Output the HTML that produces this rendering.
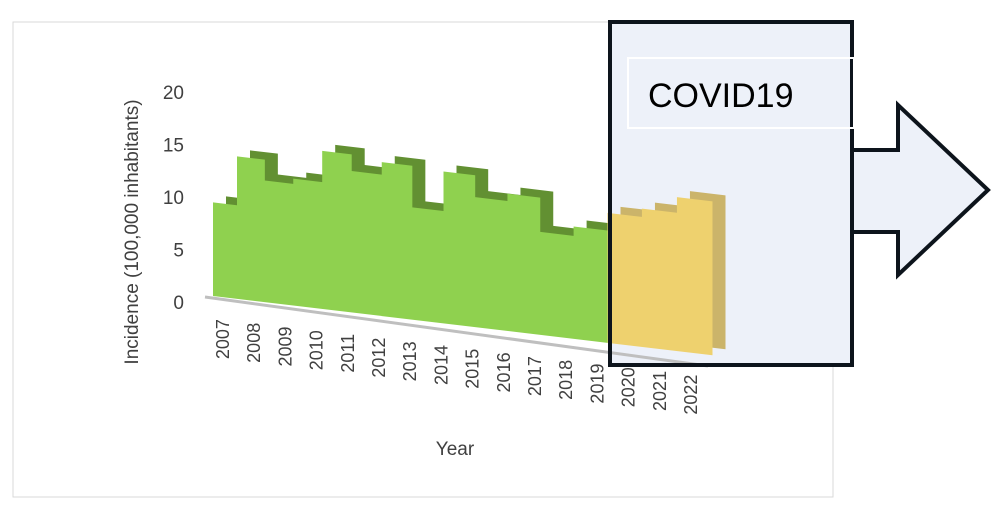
<!DOCTYPE html>
<html><head><meta charset="utf-8"><style>
body{margin:0;background:#fff;font-family:"Liberation Sans",sans-serif}
svg{display:block}
text{fill:#404040}
</style></head><body>
<svg id="c" width="1000" height="514">
<rect x="13" y="22" width="820" height="475" fill="#fff" stroke="#d9d9d9"/>
<rect x="610" y="22" width="242" height="343" fill="#edf1f9"/>
<g id="yt"></g>
<text x="138" y="232" font-size="19" text-anchor="middle" transform="rotate(-90 138 232)">Incidence (100,000 inhabitants)</text>
<text x="455" y="455" font-size="19" text-anchor="middle">Year</text>
<line x1="205" y1="297" x2="708" y2="366" stroke="#bfbfbf" stroke-width="3"/>
<g id="marks"></g>
<g id="xt"></g>
<rect x="610" y="22" width="242" height="343" fill="none" stroke="#0d141c" stroke-width="4"/>
<polygon points="852,150 898,150 898,105 988,190 898,275 898,232 852,232" fill="#edf1f9" stroke="#0d141c" stroke-width="4"/>
<rect x="628" y="58" width="226" height="70" fill="none" stroke="#fff" stroke-width="2"/>
<text x="648" y="107" font-size="34" style="fill:#000">COVID19</text>
</svg>
<script>
const years=["2007","2008","2009","2010","2011","2012","2013","2014","2015","2016","2017","2018","2019","2020","2021","2022"];
const values=[9.0,13.7,11.7,12.2,15.2,13.6,14.8,10.8,14.6,12.5,13.2,9.9,10.8,12.5,13.3,14.8];
const covidFrom=13;
const yTicks=[0,5,10,15,20];
const NS="http://www.w3.org/2000/svg";
const k=10.4;
const baseY=x=>296+(x-213)*0.1187;
function xs(i){if(i===0)return 213;let b=237;for(let j=1;j<i;j++)b+=27.3+0.55*j;return b;}
const ytop=(x,v)=>baseY(x)-v*k;
function poly(pts,fill,name){const p=document.createElementNS(NS,"polygon");
p.setAttribute("points",pts.map(a=>a.join(",")).join(" "));p.setAttribute("fill",fill);


document.getElementById("marks").appendChild(p);}
function shape(a,b,dx,dy){const pts=[];for(let i=a;i<b;i++){const l=xs(i),r=xs(i+1);
pts.push([l+dx,ytop(l,values[i])+dy],[r+dx,ytop(r,values[i])+dy]);}
pts.push([xs(b)+dx,baseY(xs(b))+dy],[xs(a)+dx,baseY(xs(a))+dy]);return pts;}
const dx=13,dy=-6;
poly(shape(0,covidFrom,dx,dy),"#629032","green-area-depth");
poly(shape(covidFrom,16,dx,dy),"#cbb46a","covid-area-depth");
poly(shape(0,covidFrom,0,0),"#8fd14f","green-area-front");
poly(shape(covidFrom,16,0,0),"#eed16e","covid-area-front");
const yt=document.getElementById("yt");
yTicks.forEach(t=>{const e=document.createElementNS(NS,"text");
e.setAttribute("x",184);e.setAttribute("y",302-t*10.5+7);e.setAttribute("font-size","19");e.setAttribute("text-anchor","end");
e.textContent=t;


yt.appendChild(e);});
const xt=document.getElementById("xt");
years.forEach((y,i)=>{const cx=222+i*31.2+7, ty=baseY(222+i*31.2)+22;
const e=document.createElementNS(NS,"text");
e.setAttribute("x",cx);e.setAttribute("y",ty);e.setAttribute("font-size","18");e.setAttribute("text-anchor","end");
e.setAttribute("transform","rotate(-90 "+cx+" "+ty+")");e.textContent=y;


xt.appendChild(e);});
</script>
</body></html>
